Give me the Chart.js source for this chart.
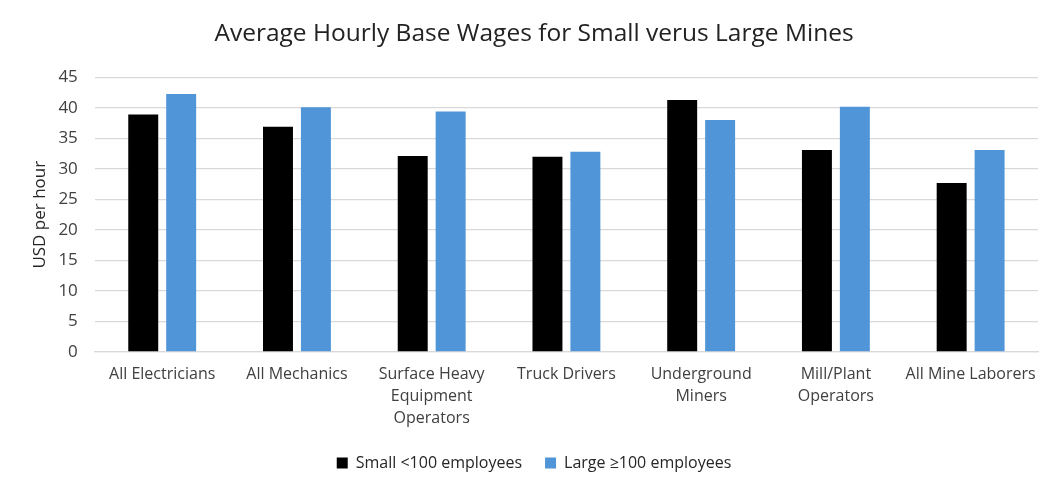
<!DOCTYPE html>
<html>
<head>
<meta charset="utf-8">
<script src="https://cdn.jsdelivr.net/npm/chart.js@4"></script>
<style>
    html, body { margin: 0; padding: 0; background: #fff; }
    #wrap { width: 1061px; height: 492px; }
</style>
</head>
<body>
<div id="wrap"><canvas id="myChart" width="1061" height="492"></canvas></div>
<script>
const categories = [
    "All Electricians",
    "All Mechanics",
    ["Surface Heavy", "Equipment", "Operators"],
    "Truck Drivers",
    ["Underground", "Miners"],
    ["Mill/Plant", "Operators"],
    "All Mine Laborers"
];
const smallMines = [38.9, 36.9, 32.1, 32.0, 41.3, 33.1, 27.7];
const largeMines = [42.3, 40.1, 39.4, 32.8, 38.0, 40.2, 33.1];
const yTicks = [0, 5, 10, 15, 20, 25, 30, 35, 40, 45];

const chart = document.getElementById('myChart');
const fontFamily = "'Open Sans', 'Noto Sans', sans-serif";

new Chart(chart, {
    type: 'bar',
    data: {
        labels: categories,
        datasets: [{
            label: "Small <100 employees",
            data: smallMines,
            backgroundColor: "#000000",
            categoryPercentage: 0.563,
            barPercentage: 0.79,
        }, {
            label: "Large \u2265100 employees",
            data: largeMines,
            backgroundColor: "#4f95d8",
            categoryPercentage: 0.563,
            barPercentage: 0.79,
        }]
    },
    options: {
        responsive: false,
        animation: false,
        layout: {
            padding: { left: 30, right: 23, top: 0, bottom: 11 }
        },
        scales: {
            x: {
                grid: { display: false },
                border: { color: "#d9d9d9", width: 1.3 },
                ticks: {
                    color: "#404040",
                    font: { family: fontFamily, size: 16, lineHeight: 1.375 },
                    maxRotation: 0,
                    autoSkip: false,
                    padding: 3,
                },
            },
            y: {
                min: 0,
                max: yTicks[yTicks.length - 1],
                afterBuildTicks: (axis) => {
                    axis.ticks = yTicks.map(v => ({ value: v }));
                },
                grid: { color: "#d9d9d9", lineWidth: 1.3, drawTicks: false },
                border: { display: false },
                ticks: {
                    color: "#404040",
                    font: { family: fontFamily, size: 17 },
                    padding: 17,
                },
                title: {
                    display: true,
                    text: "USD per hour",
                    color: "#262626",
                    font: { family: fontFamily, size: 17 },
                    padding: { top: 0, bottom: -9 },
                },
            },
        },
        plugins: {
            title: {
                display: true,
                text: "Average Hourly Base Wages for Small verus Large Mines",
                color: "#222222",
                font: { family: fontFamily, size: 24.5, weight: 'normal' },
                padding: { top: 19, bottom: 29 },
            },
            legend: {
                display: true,
                position: 'bottom',
                labels: {
                    boxWidth: 11,
                    boxHeight: 11,
                    padding: 23,
                    color: "#262626",
                    font: { family: fontFamily, size: 16 },
                },
            },
            tooltip: { enabled: false },
        },
    },
});
</script>
</body>
</html>
